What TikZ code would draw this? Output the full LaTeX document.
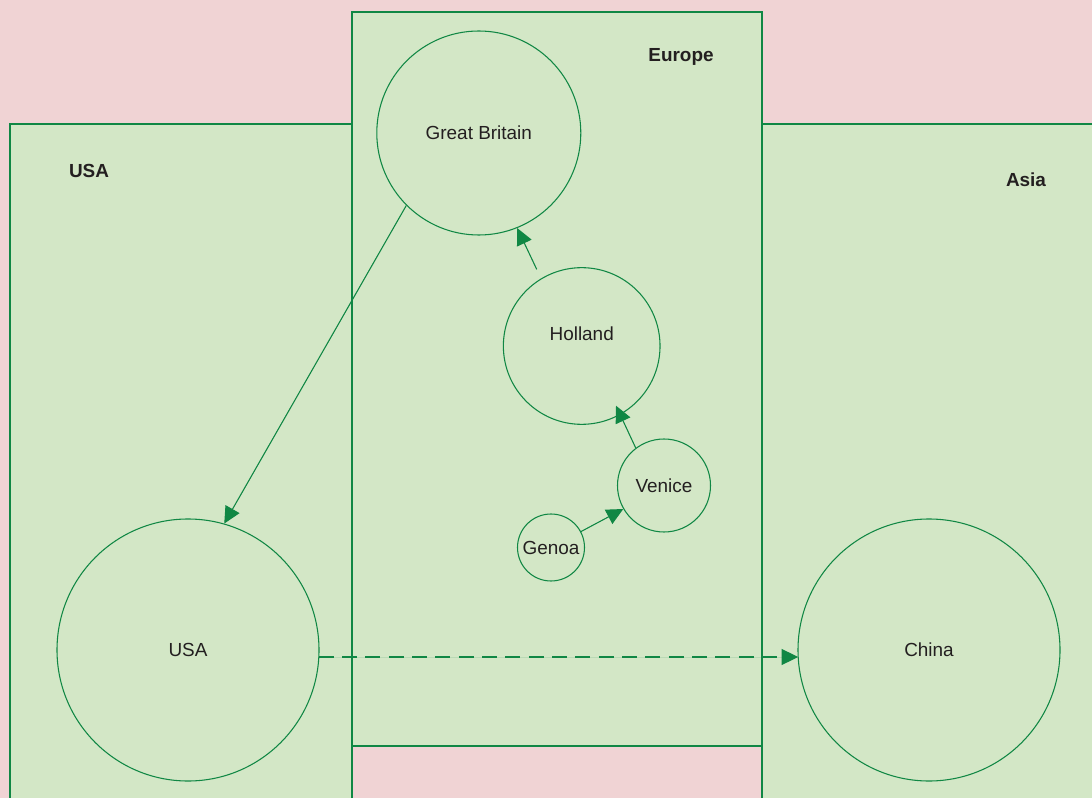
\documentclass[tikz,border=0pt]{standalone}
\usepackage{fontspec}
\setmainfont{Liberation Sans}
\usetikzlibrary{arrows.meta,calc}
\definecolor{bgpink}{RGB}{240,211,212}
\definecolor{panelfill}{RGB}{211,231,198}
\definecolor{edgegreen}{RGB}{16,135,68}
\definecolor{inkgray}{RGB}{35,31,32}
\tikzset{
  panel/.style={draw=edgegreen, fill=panelfill, line width=0.9pt},
  region/.style={circle, draw=edgegreen, line width=0.8pt, inner sep=0pt,
    text=inkgray, font=\fontsize{14.2}{17}\selectfont},
  paneltitle/.style={text=inkgray, font=\fontsize{14.2}{17}\selectfont\bfseries},
  plain/.style={text=inkgray, font=\fontsize{14.2}{17}\selectfont},
  flow/.style={draw=edgegreen, line width=0.8pt,
    -{Triangle[length=12.5pt,width=12pt]}, fill=edgegreen},
  flowdash/.style={flow, line width=1pt, dash pattern=on 11.25pt off 6.25pt}
}
\begin{document}
\begin{tikzpicture}[x=0.75pt,y=-0.75pt]
  \path[use as bounding box, fill=bgpink] (0,0) rectangle (1092,798);
  \clip (0,0) rectangle (1092,798);

  % the three regions
  \draw[panel] (10,124) rectangle (352,820);
  \draw[panel] (762,124) rectangle (1110,820);
  \draw[panel] (352,12) rectangle (762,746);

  \node[paneltitle] (tusa) at (89,171) {USA};
  \node[paneltitle] (teurope) at (681,57) {Europe};
  \node[paneltitle] (tasia) at (1026,180) {Asia};

  % centres of trade
  \node[region, minimum size=153pt] (gb) at (478.8,133) {Great Britain};
  \node[region, minimum size=117.5pt] (holland) at (581.7,346) {};
  \node[plain] (hollandname) at (581.7,334) {Holland};
  \node[region, minimum size=69.75pt] (venice) at (664,485.5) {Venice};
  \node[region, minimum size=50.25pt] (genoa) at (551,547.5) {Genoa};
  \node[region, minimum size=196.5pt] (usa) at (188,650) {USA};
  \node[region, minimum size=196.5pt] (china) at (929,650) {China};

  % shifts of the centre
  \coordinate (hollandout) at ($(holland.center)+(-45,-76.7)$);
  \coordinate (hollandin) at ($(holland.center)+(34.3,59.7)$);
  \coordinate (usaout) at ($(usa.center)+(130.8,7)$);
  \coordinate (chinain) at ($(china.center)+(-130.8,7)$);

  \draw[flow] (gb.225) -- (usa.74.1);
  \draw[flow] (hollandout) -- (gb.-68.3);
  \draw[flow] (venice.127) -- (hollandin);
  \draw[flow] (genoa.28.8) -- (venice.210.9);
  \draw[flowdash] (usaout) -- (chinain);
\end{tikzpicture}
\end{document}
